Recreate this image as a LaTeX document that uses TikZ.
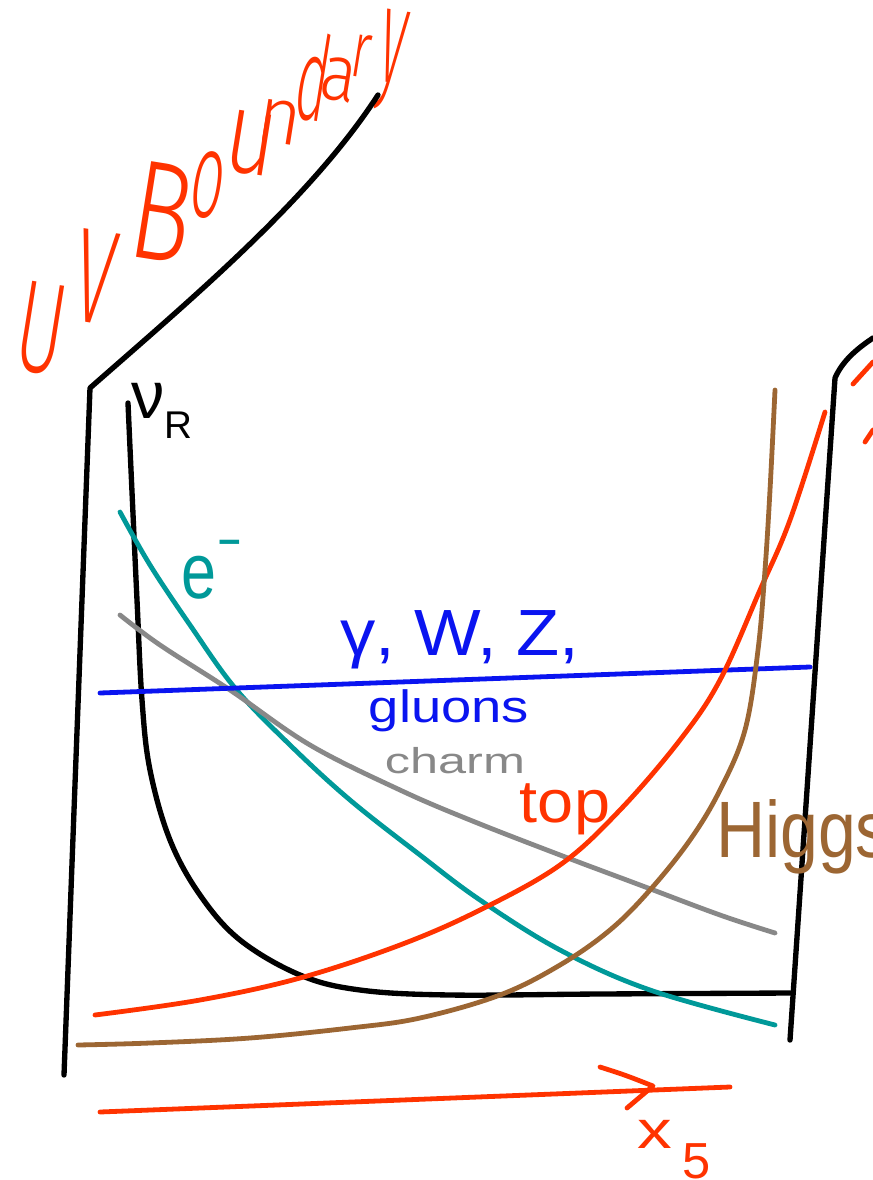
\documentclass[tikz,border=0pt]{standalone}
\usepackage{fontspec}
\setmainfont{Liberation Sans}
\newfontfamily\hwfont{Fira Sans}[UprightFont={* Light}]
\usepackage{graphicx}
\definecolor{hred}{HTML}{FF3300}
\definecolor{hteal}{HTML}{009999}
\definecolor{hgray}{HTML}{888888}
\definecolor{hblue}{HTML}{0A14F0}
\definecolor{hbrown}{HTML}{9C6633}
\newcommand\fs[1]{\fontsize{#1}{#1}\selectfont}
\newcommand\hwl[6]{\node[lab, text=hred, anchor=base, rotate=-9] (#1) at (#2,#3) {\scalebox{#5}[1]{\hwfont\fs{#4}#6}};}
\tikzset{
  wall/.style={line width=4pt, line cap=round, line join=round, black},
  crv/.style={line width=3.6pt, line cap=round, line join=round},
  lab/.style={inner sep=0pt, outer sep=0pt},
}
\begin{document}
\begin{tikzpicture}[x=0.75pt,y=-0.75pt]
\useasboundingbox (0,0) rectangle (873,1180);
\fill[white] (0,0) rectangle (873,1180);
\clip (0,0) rectangle (873,1180);

% UV Boundary (letter by letter)
\hwl{l1}{35}{372}{98}{0.55}{U}
\hwl{l2}{88}{323}{101}{0.54}{V}
\hwl{l3}{155}{260}{106}{0.71}{B}
\hwl{l4}{203}{217}{93}{0.47}{o}
\hwl{l5}{246}{173}{88}{0.74}{u}
\hwl{l6}{276}{143}{60}{0.94}{n}
\hwl{l7}{307}{120}{89}{0.46}{d}
\hwl{l8}{335}{100}{60}{0.85}{a}
\hwl{l9}{358}{77}{60}{0.63}{r}
\hwl{l10}{388}{82}{104}{0.39}{y}

% boundaries
\draw[wall] (378,95) .. controls (310,200) and (190,300) .. (90,388) -- (64,1075);
\draw[wall] (873,338) .. controls (855,350) and (842,362) .. (835,378) -- (790,1040);

% red fragments at right edge
\draw[crv, hred] (873,362) -- (853,384);
\draw[crv, hred] (873,430) -- (865,442);

% nu_R curve
\draw[wall] plot[smooth, tension=0.6] coordinates {(128,403) (131,470) (137,600) (142,700) (150,770) (170,840) (200,895) (240,940) (300,975) (360,990) (450,995) (600,994) (790,993)};
\node[lab, anchor=base] (nur) at (162,418) {\fs{50}ν\lower 15pt\hbox{\fs{29}R}};

% electron
\draw[crv, hteal] plot[smooth, tension=0.6] coordinates {(120,512) (150,565) (190,625) (235,688) (290,745) (350,800) (420,855) (480,900) (560,950) (650,990) (775,1025)};
\node[lab, anchor=base, text=hteal] (elab) at (212,598) {\scalebox{0.8}[1]{\fs{59}e}\raisebox{31pt}{\scalebox{1.5}[1]{\fs{40}-}}};

% charm
\draw[crv, hgray] plot[smooth, tension=0.6] coordinates {(120,615) (160,645) (230,690) (310,745) (400,790) (470,820) (560,855) (640,885) (720,915) (775,933)};
\node[lab, anchor=base, text=hgray] (clab) at (455,773) {\scalebox{1.4}[1]{\fs{27}charm}};

% gauge bosons
\draw[crv, hblue] (100,693) -- (810,667);
\node[lab, anchor=base, text=hblue] (glab) at (460,655) {\scalebox{1.08}[1]{\fs{49}γ, W, Z,}};
\node[lab, anchor=base, text=hblue] (gllab) at (449,722) {\scalebox{1.2}[1]{\fs{34}gluons}};

% top
\draw[crv, hred] plot[smooth, tension=0.6] coordinates {(95,1015) (200,1000) (300,978) (400,945) (480,910) (560,865) (620,810) (680,740) (720,680) (760,590) (790,520) (825,412)};
\node[lab, anchor=base, text=hred] (tlab) at (565,822) {\scalebox{1.08}[1]{\fs{45}top}};

% Higgs
\draw[crv, hbrown] plot[smooth, tension=0.6] coordinates {(78,1045) (150,1043) (250,1038) (350,1028) (420,1018) (500,995) (560,965) (610,930) (650,890) (690,840) (720,790) (745,730) (758,650) (765,570) (770,490) (775,390)};
\node[lab, anchor=base west, text=hbrown] (hlab) at (716,857) {\scalebox{0.85}[1]{\fs{60}Higgs}};

% x5 axis
\coordinate (a0) at (100,1112);
\coordinate (a1) at (730,1087);
\coordinate (tip) at (653,1086);
\coordinate (b1) at (600,1067);
\coordinate (b2) at (627,1108);
\draw[crv, hred] (a0) -- (a1);
\draw[crv, hred] (b1) .. controls (625,1075) .. (tip) -- (b2);
\node[lab, anchor=base, text=hred] (xlab) at (674,1148) {\scalebox{1.3}[1]{\fs{40}x}\kern 8pt\lower 22.5pt\hbox{\fs{38}5}};
\end{tikzpicture}
\end{document}
